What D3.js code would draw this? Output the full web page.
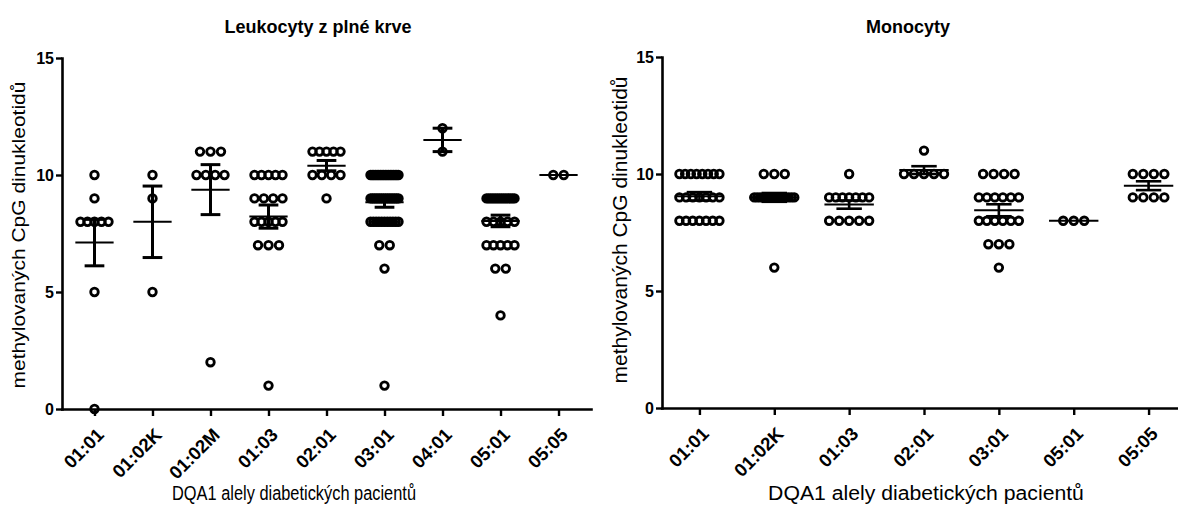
<!DOCTYPE html>
<html>
<head>
<meta charset="utf-8">
<script src="https://cdnjs.cloudflare.com/ajax/libs/d3/7.8.5/d3.min.js"></script>
<style>
body { margin: 0; background: #fff; }
svg text { font-family: "Liberation Sans", Arial, sans-serif; fill: #000; }
</style>
</head>
<body>
<script>
// Leukocyty z plné krve
var leukoAlely = ["01:01", "01:02K", "01:02M", "01:03", "02:01", "03:01", "04:01", "05:01", "05:05"];
var leukoHodnoty = [
    [10, 9, 8, 8, 8, 8, 8, 5, 0],
    [10, 9, 5],
    [11, 11, 11, 10, 10, 10, 10, 2],
    [10, 10, 10, 10, 10, 9, 9, 9, 9, 8, 8, 8, 8, 8, 7, 7, 7, 1],
    [11, 11, 11, 11, 11, 10, 10, 10, 10, 9],
    [10, 10, 10, 10, 10, 10, 10, 10, 10, 10, 10, 10, 10, 10, 10, 10, 10, 10,
     9, 9, 9, 9, 9, 9, 9, 9, 9, 9, 9, 9, 9, 9, 9, 9,
     8, 8, 8, 8, 8, 8, 8, 8, 8, 8, 8, 7, 7, 6, 1],
    [12, 11],
    [9, 9, 9, 9, 9, 9, 9, 9, 9, 9, 9, 9, 9, 9, 8, 8, 8, 8, 8, 7, 7, 7, 7, 7, 6, 6, 4],
    [10, 10]
];

// Monocyty
var monoAlely = ["01:01", "01:02K", "01:03", "02:01", "03:01", "05:01", "05:05"];
var monoHodnoty = [
    [10, 10, 10, 10, 10, 10, 10, 10, 9, 9, 9, 9, 9, 9, 9, 8, 8, 8, 8, 8, 8, 8],
    [10, 10, 10, 9, 9, 9, 9, 9, 9, 9, 9, 9, 9, 9, 9, 9, 9, 9, 6],
    [10, 9, 9, 9, 9, 9, 9, 9, 8, 8, 8, 8, 8],
    [11, 10, 10, 10, 10, 10],
    [10, 10, 10, 10, 9, 9, 9, 9, 9, 9, 8, 8, 8, 8, 8, 8, 7, 7, 7, 6],
    [8, 8, 8],
    [10, 10, 10, 10, 9, 9, 9, 9]
];

var yTicks = [0, 5, 10, 15];
var yNazev = "methylovaných CpG dinukleotidů";
var xNazev = "DQA1 alely diabetických pacientů";

var width = 1178;
var height = 506;

var canvas = d3.select("body")
                .append("svg")
                .attr("width", width)
                .attr("height", height);

function panel(p) {
    var x = d3.scalePoint()
                .domain(p.alely)
                .range([p.left, p.right])
                .padding(p.pad);
    var y = d3.scaleLinear()
                .domain([0, 15])
                .range([p.bottom, p.top]);

    var g = canvas.append("g");
    var step = x.step();

    // body - radky se stejnou hodnotou se rozprostrou do sirky
    p.hodnoty.forEach(function(vals, i) {
        var rows = d3.rollup(vals, function(v) { return v.length; }, function(d) { return d; });
        rows.forEach(function(k, val) {
            var span = Math.min((k - 1) * 10.5, p.maxSpan);
            for (var j = 0; j < k; j++) {
                var off = k > 1 ? -span / 2 + j * span / (k - 1) : 0;
                g.append("circle")
                    .attr("cx", x(p.alely[i]) + off)
                    .attr("cy", y(val))
                    .attr("r", 3.8)
                    .attr("fill", "none")
                    .attr("stroke", "#000")
                    .attr("stroke-width", 2.8);
            }
        });
    });

    // osy
    var yAxis = g.append("g")
                .attr("transform", "translate(" + p.left + ",0)")
                .call(d3.axisLeft(y).tickValues(yTicks).tickSize(6).tickSizeOuter(0).tickPadding(2));
    var xAxis = g.append("g")
                .attr("transform", "translate(0," + p.bottom + ")")
                .call(d3.axisBottom(x).tickSize(7).tickSizeOuter(0));

    [yAxis, xAxis].forEach(function(a) {
        a.select(".domain").attr("stroke", "#000").attr("stroke-width", 2.6).attr("stroke-linecap", "square");
        a.selectAll(".tick line").attr("stroke", "#000").attr("stroke-width", 2.4);
    });
    yAxis.selectAll(".tick text")
        .style("font-size", "16px")
        .style("font-weight", "bold");
    xAxis.selectAll(".tick text")
        .style("font-size", "18.5px")
        .style("font-weight", "bold")
        .attr("text-anchor", "end")
        .attr("dy", null)
        .attr("y", null)
        .attr("transform", "translate(10,27) rotate(-45)");

    // prumer a SEM
    p.hodnoty.forEach(function(vals, i) {
        var cx = x(p.alely[i]);
        var m = d3.mean(vals);
        var sem = d3.deviation(vals) / Math.sqrt(vals.length);
        var wm = step * 0.66 / 2;
        var wc = step * 0.34 / 2;
        g.append("line")
            .attr("x1", cx - wm).attr("x2", cx + wm)
            .attr("y1", y(m)).attr("y2", y(m))
            .attr("stroke", "#000").attr("stroke-width", 2);
        if (sem > 0) {
            g.append("line")
                .attr("x1", cx).attr("x2", cx)
                .attr("y1", y(m - sem)).attr("y2", y(m + sem))
                .attr("stroke", "#000").attr("stroke-width", p.bar);
            [m - sem, m + sem].forEach(function(v) {
                g.append("line")
                    .attr("x1", cx - wc).attr("x2", cx + wc)
                    .attr("y1", y(v)).attr("y2", y(v))
                    .attr("stroke", "#000").attr("stroke-width", p.bar);
            });
        }
    });

    // popisky
    g.append("text")
        .attr("x", p.titleX)
        .attr("y", 33)
        .attr("text-anchor", "middle")
        .style("font-size", "18px")
        .style("font-weight", "bold")
        .text(p.titulek);

    g.append("text")
        .attr("text-anchor", "middle")
        .attr("transform", "translate(" + p.xNazevX + ",500) scale(" + p.xScale + ",1)")
        .style("font-size", "21px")
        .text(xNazev);

    g.append("text")
        .attr("text-anchor", "middle")
        .attr("transform", "translate(" + p.yNazevX + "," + p.yNazevY + ") scale(" + p.yScale + ",1) rotate(-90)")
        .style("font-size", "21px")
        .text(yNazev);
}

panel({
    alely: leukoAlely, hodnoty: leukoHodnoty, titulek: "Leukocyty z plné krve",
    left: 62, right: 591, pad: 0.56, top: 58, bottom: 409, maxSpan: 28, bar: 3,
    titleX: 318, xNazevX: 294, xScale: 0.78, yNazevX: 25, yNazevY: 235, yScale: 0.9
});

panel({
    alely: monoAlely, hodnoty: monoHodnoty, titulek: "Monocyty",
    left: 662, right: 1186, pad: 0.5, top: 57, bottom: 408, maxSpan: 40, bar: 2.6,
    titleX: 908, xNazevX: 926, xScale: 1.01, yNazevX: 627, yNazevY: 230, yScale: 1
});
</script>
</body>
</html>
